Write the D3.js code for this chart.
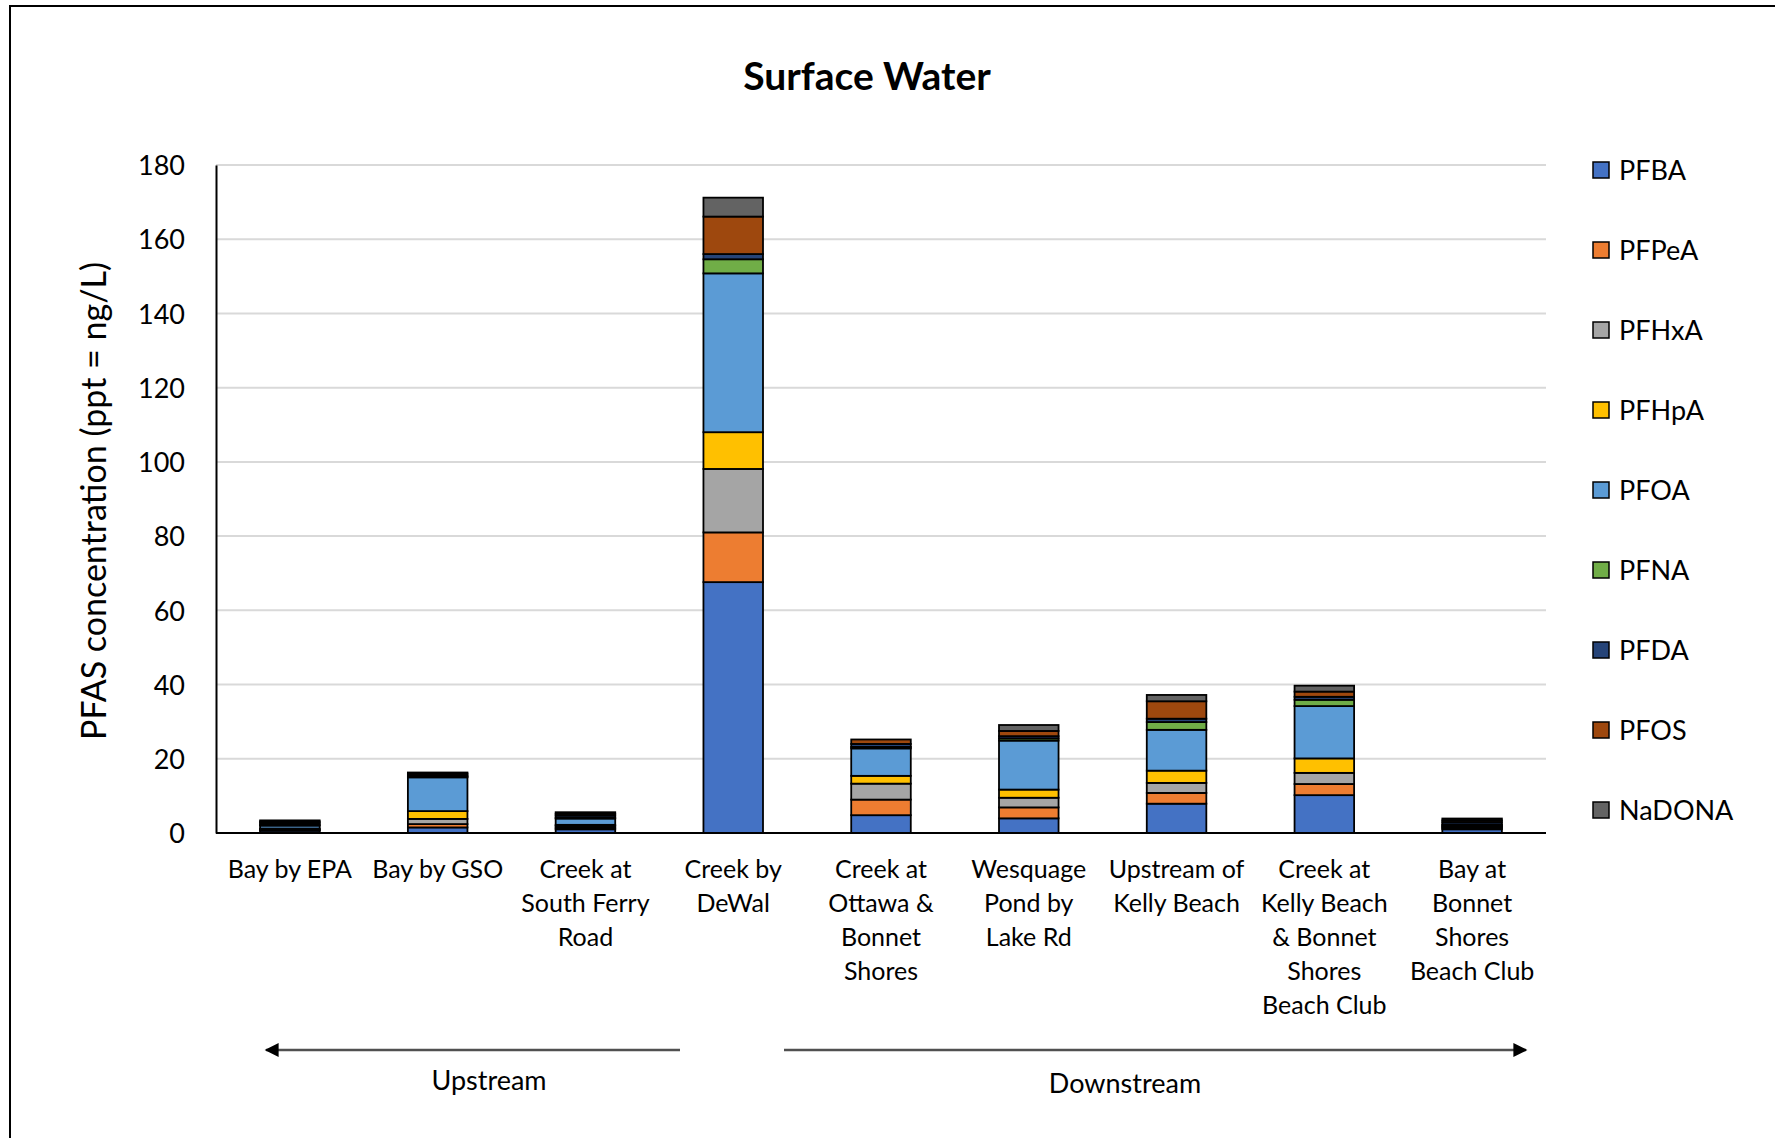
<!DOCTYPE html>
<html>
<head>
<meta charset="utf-8">
<script src="https://cdn.jsdelivr.net/npm/d3@7"></script>
<style>
  body { margin: 0; background: #fff; }
  text { font-family: Lato, "Open Sans", sans-serif; fill: #000; }
</style>
</head>
<body>
<svg id="chart" width="1775" height="1138"></svg>
<script>
// Sampling sites, listed from upstream to downstream ("\n" marks a label line break)
const categories = [
  "Bay by EPA",
  "Bay by GSO",
  "Creek at\nSouth Ferry\nRoad",
  "Creek by\nDeWal",
  "Creek at\nOttawa &\nBonnet\nShores",
  "Wesquage\nPond by\nLake Rd",
  "Upstream of\nKelly Beach",
  "Creek at\nKelly Beach\n& Bonnet\nShores\nBeach Club",
  "Bay at\nBonnet\nShores\nBeach Club"
];

// Compounds, stacked bottom to top
const seriesNames = ["PFBA", "PFPeA", "PFHxA", "PFHpA", "PFOA", "PFNA", "PFDA", "PFOS", "NaDONA"];
const seriesColors = ["#4472C4", "#ED7D31", "#A5A5A5", "#FFC000", "#5B9BD5", "#70AD47", "#264478", "#9E480E", "#636363"];

// Concentrations (ng/L) per site, one array per compound
const PFBA   = [0.6, 1.5, 1.0, 67.6, 4.8, 3.95, 7.9, 10.2, 1.0];
const PFPeA  = [0.2, 0.9, 0.4, 13.4, 4.2, 2.95, 2.9, 3.0, 0.3];
const PFHxA  = [0.2, 1.4, 0.5, 17.1, 4.3, 2.6, 2.7, 3.0, 0.3];
const PFHpA  = [0.2, 2.1, 0.3, 9.9, 2.1, 2.2, 3.3, 3.9, 0.2];
const PFOA   = [0.8, 9.1, 1.7, 42.8, 7.4, 13.2, 11.0, 14.1, 0.3];
const PFNA   = [0.2, 0.2, 0.2, 3.8, 0.4, 0.6, 2.1, 1.7, 0.2];
const PFDA   = [0.5, 0.3, 0.6, 1.4, 0.8, 0.6, 0.9, 0.8, 0.6];
const PFOS   = [0.4, 0.5, 0.5, 10.1, 1.2, 1.4, 4.7, 1.4, 0.5];
const NaDONA = [0.3, 0.3, 0.4, 5.1, 0.0, 1.6, 1.7, 1.6, 0.5];

const yTicks = [0, 20, 40, 60, 80, 100, 120, 140, 160, 180];

const seriesValues = [PFBA, PFPeA, PFHxA, PFHpA, PFOA, PFNA, PFDA, PFOS, NaDONA];

// Table for d3.stack: one row per site
const rows = categories.map((c, i) => {
  const r = { site: c };
  seriesNames.forEach((s, k) => { r[s] = seriesValues[k][i]; });
  return r;
});

const svg = d3.select("#chart");

// Outer chart frame
svg.append("rect")
  .attr("x", 10).attr("y", 6)
  .attr("width", 1800).attr("height", 1200)
  .attr("fill", "none").attr("stroke", "#000").attr("stroke-width", 2);

const plot = { left: 216, right: 1546, top: 165, bottom: 833 };

const x = d3.scaleBand()
  .domain(categories)
  .range([plot.left, plot.right])
  .paddingInner(0.597)
  .paddingOuter(0.2985);

const y = d3.scaleLinear()
  .domain([0, 180])
  .range([plot.bottom, plot.top]);

// Horizontal gridlines
svg.append("g")
  .selectAll("line")
  .data(yTicks.filter(t => t > 0))
  .join("line")
  .attr("x1", plot.left).attr("x2", plot.right)
  .attr("y1", d => y(d)).attr("y2", d => y(d))
  .attr("stroke", "#d9d9d9").attr("stroke-width", 2);

// Y axis
const yAxis = svg.append("g")
  .attr("transform", `translate(${plot.left},0)`)
  .call(d3.axisLeft(y).tickValues(yTicks).tickSize(0).tickPadding(31));
yAxis.select(".domain").attr("stroke", "#000").attr("stroke-width", 2);
yAxis.selectAll("text")
  .style("font-size", "27px")
  .attr("dy", "0.36em");

// Stacked bars
const stacked = d3.stack().keys(seriesNames)(rows);
const color = d3.scaleOrdinal().domain(seriesNames).range(seriesColors);

svg.append("g")
  .selectAll("g")
  .data(stacked)
  .join("g")
  .attr("fill", d => color(d.key))
  .selectAll("rect")
  .data(d => d.filter(p => p[1] - p[0] > 0))
  .join("rect")
  .attr("x", d => x(d.data.site))
  .attr("width", x.bandwidth())
  .attr("y", d => y(d[1]))
  .attr("height", d => y(d[0]) - y(d[1]))
  .attr("stroke", "#000")
  .attr("stroke-width", 1.8);

// X axis baseline
svg.append("line")
  .attr("x1", plot.left).attr("x2", plot.right)
  .attr("y1", y(0)).attr("y2", y(0))
  .attr("stroke", "#000").attr("stroke-width", 2);

// Category labels, multi-line
const catLabels = svg.append("g")
  .selectAll("text")
  .data(categories)
  .join("text")
  .attr("text-anchor", "middle")
  .style("font-size", "25px")
  .attr("x", d => x(d) + x.bandwidth() / 2)
  .attr("y", 878);
catLabels.each(function(d) {
  const t = d3.select(this);
  d.split("\n").forEach((line, i) => {
    t.append("tspan")
      .attr("x", x(d) + x.bandwidth() / 2)
      .attr("dy", i === 0 ? 0 : 34)
      .text(line);
  });
});

// Title
svg.append("text")
  .attr("x", 867).attr("y", 90)
  .attr("text-anchor", "middle")
  .style("font-size", "39px").style("font-weight", "bold")
  .text("Surface Water");

// Y axis title
svg.append("text")
  .attr("transform", "translate(106,501) rotate(-90)")
  .attr("text-anchor", "middle")
  .style("font-size", "34px")
  .text("PFAS concentration (ppt = ng/L)");

// Legend
const legend = svg.append("g")
  .selectAll("g")
  .data(seriesNames)
  .join("g")
  .attr("transform", (d, i) => `translate(1593,${170 + i * 80})`);
legend.append("rect")
  .attr("x", 0).attr("y", -8)
  .attr("width", 16).attr("height", 16)
  .attr("fill", d => color(d))
  .attr("stroke", "#000").attr("stroke-width", 1.5);
legend.append("text")
  .attr("x", 26).attr("y", 0).attr("dy", "0.36em")
  .style("font-size", "27px")
  .text(d => d);

// Flow direction arrows
const defs = svg.append("defs");
defs.append("marker")
  .attr("id", "arrowhead")
  .attr("viewBox", "0 0 10 10")
  .attr("refX", 9).attr("refY", 5)
  .attr("markerWidth", 15).attr("markerHeight", 14)
  .attr("markerUnits", "userSpaceOnUse")
  .attr("orient", "auto-start-reverse")
  .append("path")
  .attr("d", "M0,0 L10,5 L0,10 Z")
  .attr("fill", "#000");

svg.append("line")
  .attr("x1", 680).attr("x2", 266)
  .attr("y1", 1050).attr("y2", 1050)
  .attr("stroke", "#505050").attr("stroke-width", 2.5)
  .attr("marker-end", "url(#arrowhead)");
svg.append("line")
  .attr("x1", 784).attr("x2", 1526)
  .attr("y1", 1050).attr("y2", 1050)
  .attr("stroke", "#505050").attr("stroke-width", 2.5)
  .attr("marker-end", "url(#arrowhead)");

svg.append("text")
  .attr("x", 489).attr("y", 1090)
  .attr("text-anchor", "middle")
  .style("font-size", "27px")
  .text("Upstream");
svg.append("text")
  .attr("x", 1125).attr("y", 1093)
  .attr("text-anchor", "middle")
  .style("font-size", "27px")
  .text("Downstream");
</script>
</body>
</html>
